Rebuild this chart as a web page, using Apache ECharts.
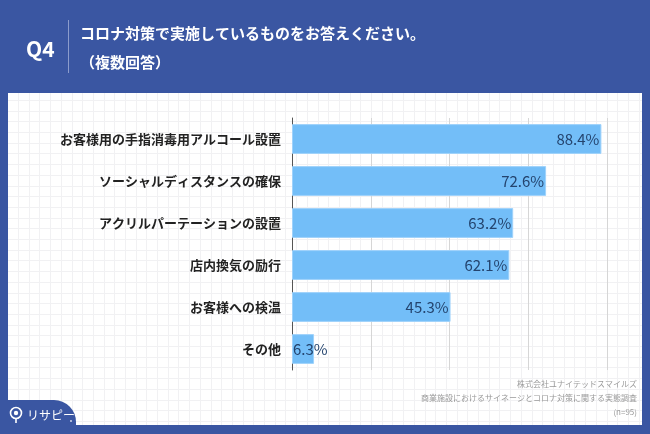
<!DOCTYPE html>
<html>
<head>
<meta charset="utf-8">
<script src="https://cdn.jsdelivr.net/npm/echarts@6/dist/echarts.min.js"></script>
<style>
html,body{margin:0;padding:0;background:#3A56A2;}
#c{width:650px;height:434px;}
</style>
</head>
<body>
<div id="c"></div>
<script>
const categories = ['お客様用の手指消毒用アルコール設置','ソーシャルディスタンスの確保','アクリルパーテーションの設置','店内換気の励行','お客様への検温','その他'];
const values = [88.4, 72.6, 63.2, 62.1, 45.3, 6.3];
const titleLines = ['コロナ対策で実施しているものをお答えください。','（複数回答）'];
const sourceLines = ['株式会社ユナイテッドスマイルズ','商業施設におけるサイネージとコロナ対策に関する実態調査','(n=95)'];

const font = '"Noto Sans CJK JP","Noto Sans",sans-serif';
const chart = echarts.init(document.getElementById('c'), null, {renderer:'canvas'});

// decorative graph-paper lines on the white panel
const paper = [];
for (let x = 18; x < 642; x += 10.7) {
  paper.push({type:'line', silent:true, z:-9, shape:{x1:Math.round(x)+0.5,y1:93,x2:Math.round(x)+0.5,y2:425}, style:{stroke:'#f1f1f3',lineWidth:1}});
}
for (let y = 100; y < 425; y += 10.7) {
  paper.push({type:'line', silent:true, z:-9, shape:{x1:8,y1:Math.round(y)+0.5,x2:642,y2:Math.round(y)+0.5}, style:{stroke:'#f1f1f3',lineWidth:1}});
}

const data = values.map(v => v < 15
  ? {value:v, label:{position:'insideLeft', distance:1}}
  : {value:v});

function txt(x, y, s, f, color, align) {
  return {type:'text', x:x, y:y, z:10, style:{text:s, fill:color, font:f, align:align||'left', verticalAlign:'middle'}};
}

chart.setOption({
  backgroundColor:'#3A56A2',
  animation:false,
  graphic:[
    {type:'rect', z:-10, silent:true, shape:{x:8,y:93,width:634,height:332}, style:{fill:'#ffffff'}},
    ...paper,
    txt(26, 49, 'Q4', 'bold 21px '+font, '#fff'),
    {type:'line', shape:{x1:68.5,y1:20,x2:68.5,y2:73}, style:{stroke:'#8c9ccc',lineWidth:1}},
    txt(80, 33, titleLines[0], 'bold 15px '+font, '#fff'),
    txt(80, 62, titleLines[1], 'bold 15px '+font, '#fff'),
    txt(637, 384, sourceLines[0], '8px '+font, '#9a9a9a', 'right'),
    txt(637, 398, sourceLines[1], '8px '+font, '#9a9a9a', 'right'),
    txt(637, 412, sourceLines[2], '8px '+font, '#9a9a9a', 'right'),
    {type:'rect', z:5, shape:{x:-30,y:400,width:106,height:40,r:[0,22,0,0]}, style:{fill:'#3A56A2'}},
    {type:'circle', z:6, shape:{cx:16,cy:413,r:5.5}, style:{fill:'none',stroke:'#fff',lineWidth:1.6}},
    {type:'circle', z:6, shape:{cx:16,cy:413,r:2.2}, style:{fill:'#fff'}},
    {type:'line', z:6, shape:{x1:16,y1:418.5,x2:16,y2:423}, style:{stroke:'#fff',lineWidth:1.6}},
    txt(27, 415, 'リサピー', '12px '+font, '#fff'),
    {type:'circle', z:6, shape:{cx:71,cy:421,r:1}, style:{fill:'#cfd6ea'}}
  ],
  grid:{left:292, top:118, width:315, height:252, containLabel:false},
  xAxis:{
    type:'value', min:0, max:90, interval:22.5,
    axisLabel:{show:false}, axisTick:{show:false}, axisLine:{show:false},
    splitLine:{show:true, lineStyle:{color:'#d6d6d6', width:1}}
  },
  yAxis:{
    type:'category', data:categories, inverse:true,
    axisTick:{show:false},
    axisLine:{show:true, lineStyle:{color:'#555', width:1}},
    axisLabel:{color:'#222', fontSize:13, fontWeight:'bold', fontFamily:font, margin:11}
  },
  series:[{
    type:'bar', data:data, barCategoryGap:'29%',
    itemStyle:{color:'#73BEF8', borderColor:'#9fd2fb', borderWidth:1},
    label:{show:true, position:'insideRight', distance:2, color:'#24446e', fontSize:15, fontFamily:font,
      formatter: p => p.value.toFixed(1) + '%'}
  }]
});
</script>
</body>
</html>
